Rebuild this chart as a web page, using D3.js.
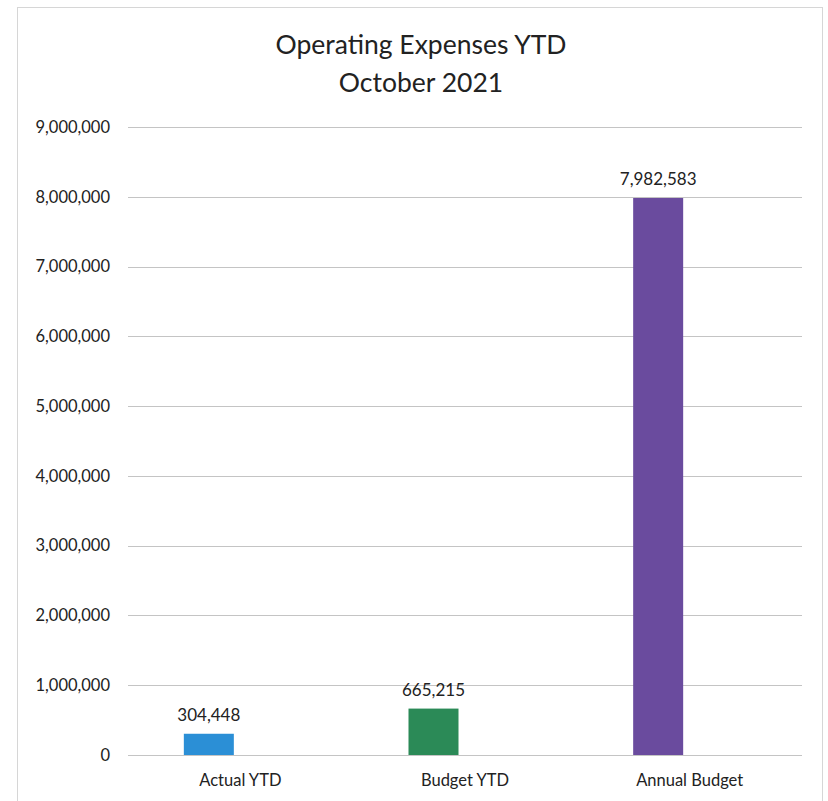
<!DOCTYPE html>
<html>
<head>
<meta charset="utf-8">
<script src="https://cdn.jsdelivr.net/npm/d3@7"></script>
<style>
  html, body { margin: 0; padding: 0; background: #ffffff; }
  svg { display: block; }
  text { font-family: Lato, "Open Sans", sans-serif; fill: #222; }
</style>
</head>
<body>
<svg id="chart" width="828" height="801"></svg>
<script>
const titleLines = ["Operating Expenses YTD", "October 2021"];
const categories = ["Actual YTD", "Budget YTD", "Annual Budget"];
const values = [304448, 665215, 7982583];
const colors = ["#2b8fd6", "#2b8a57", "#6a4b9e"];
const yTicks = [0, 1000000, 2000000, 3000000, 4000000, 5000000, 6000000, 7000000, 8000000, 9000000];

const svg = d3.select("#chart");
const plot = { left: 128, right: 802, top: 127, bottom: 755 };

// chart area border
svg.append("rect")
  .attr("x", 17.5).attr("y", 7.5)
  .attr("width", 805).attr("height", 800)
  .attr("fill", "none").attr("stroke", "#d6d6d6").attr("stroke-width", 1);

const x = d3.scaleBand().domain(categories).range([plot.left, plot.right]);
const y = d3.scaleLinear().domain([0, 9000000]).range([plot.bottom, plot.top]);
const fmt = d3.format(",");

// gridlines
svg.append("g").selectAll("line").data(yTicks).join("line")
  .attr("x1", plot.left).attr("x2", plot.right)
  .attr("y1", d => Math.round(y(d)) + 0.5).attr("y2", d => Math.round(y(d)) + 0.5)
  .attr("stroke", "#c4c4c4").attr("stroke-width", 1);

// y axis labels
const yAxis = d3.axisLeft(y).tickValues(yTicks).tickFormat(fmt).tickSize(0).tickPadding(18);
const gy = svg.append("g").attr("transform", `translate(${plot.left},0)`).call(yAxis);
gy.select(".domain").remove();
gy.selectAll("text").attr("font-size", 16.5).attr("font-family", "Lato, sans-serif").attr("fill", "#222");

// x axis labels
const xAxis = d3.axisBottom(x).tickSize(0).tickPadding(19);
const gx = svg.append("g").attr("transform", `translate(0,${plot.bottom})`).call(xAxis);
gx.select(".domain").remove();
gx.selectAll("text").attr("font-size", 16.5).attr("font-family", "Lato, sans-serif").attr("fill", "#222");

// bars (offset within cluster like the source chart)
const barW = 50;
const clusterShift = -31.5;
const cx = d => x(d) + x.bandwidth() / 2 + clusterShift;

svg.append("g").selectAll("rect").data(categories).join("rect")
  .attr("x", d => cx(d) - barW / 2)
  .attr("width", barW)
  .attr("y", (d, i) => y(values[i]))
  .attr("height", (d, i) => y(0) - y(values[i]))
  .attr("fill", (d, i) => colors[i]);

// data labels
svg.append("g").selectAll("text").data(categories).join("text")
  .attr("x", d => cx(d))
  .attr("y", (d, i) => y(values[i]) - 13)
  .attr("text-anchor", "middle")
  .attr("font-size", 17)
  .text((d, i) => fmt(values[i]));

// title
svg.append("g").selectAll("text").data(titleLines).join("text")
  .attr("x", 421)
  .attr("y", (d, i) => 54 + i * 38)
  .attr("text-anchor", "middle")
  .attr("font-size", 26.5)
  .text(d => d);
</script>
</body>
</html>
